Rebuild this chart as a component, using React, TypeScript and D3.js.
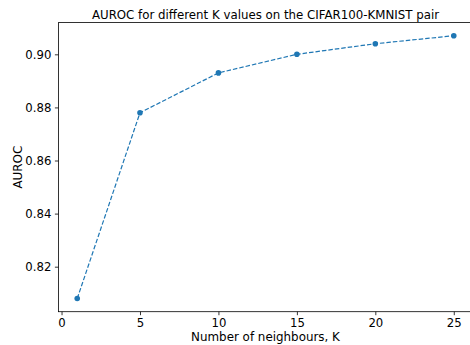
import { useEffect, useRef } from "react";
import * as d3 from "d3";

const kValues = [1, 5, 10, 15, 20, 25];
const auroc = [0.808, 0.878, 0.893, 0.9, 0.904, 0.907];
const xTicks = [0, 5, 10, 15, 20, 25];
const yTicks = [0.82, 0.84, 0.86, 0.88, 0.9];

const W = 470;
const H = 345;
const FONT = "DejaVu Sans, sans-serif";

export default function App() {
  const svgRef = useRef<SVGSVGElement>(null);

  useEffect(() => {
    if (!svgRef.current) return;
    const svg = d3.select(svgRef.current);
    svg.selectAll("*").remove();

    const left = 58.4;
    const right = 472.6;
    const top = 22.6;
    const bottom = 311.7;

    // matplotlib-style 5% margins
    const xPad = (d3.max(kValues)! - d3.min(kValues)!) * 0.05;
    const yPad = (d3.max(auroc)! - d3.min(auroc)!) * 0.05;
    const x = d3
      .scaleLinear()
      .domain([d3.min(kValues)! - xPad, d3.max(kValues)! + xPad])
      .range([left, right]);
    const y = d3
      .scaleLinear()
      .domain([d3.min(auroc)! - yPad, d3.max(auroc)! + yPad])
      .range([bottom, top]);

    const data = kValues.map((k, i) => ({ k, v: auroc[i] }));

    // line
    svg
      .append("path")
      .datum(data)
      .attr("fill", "none")
      .attr("stroke", "#1f77b4")
      .attr("stroke-width", 1.2)
      .attr("stroke-dasharray", "4.5,2")
      .attr(
        "d",
        d3
          .line<{ k: number; v: number }>()
          .x((d) => x(d.k))
          .y((d) => y(d.v))
      );

    svg
      .selectAll("circle")
      .data(data)
      .join("circle")
      .attr("cx", (d) => x(d.k))
      .attr("cy", (d) => y(d.v))
      .attr("r", 2.8)
      .attr("fill", "#1f77b4");

    // axes
    const xAxis = svg
      .append("g")
      .attr("transform", `translate(0,${bottom})`)
      .call(
        d3
          .axisBottom(x)
          .tickValues(xTicks)
          .tickSize(3.5)
          .tickPadding(3.5)
          .tickFormat(d3.format("d"))
      );
    const yAxis = svg
      .append("g")
      .attr("transform", `translate(${left},0)`)
      .call(
        d3
          .axisLeft(y)
          .tickValues(yTicks)
          .tickSize(3.5)
          .tickPadding(3.5)
          .tickFormat(d3.format(".2f"))
      );
    [xAxis, yAxis].forEach((g) => {
      g.select(".domain").remove();
      g.selectAll("line").attr("stroke", "#000").attr("stroke-width", 0.8);
      g.selectAll("text")
        .attr("fill", "#000")
        .style("font-family", FONT)
        .style("font-size", "11.7px");
    });

    // frame
    svg
      .append("rect")
      .attr("x", left)
      .attr("y", top)
      .attr("width", right - left)
      .attr("height", bottom - top)
      .attr("fill", "none")
      .attr("stroke", "#000")
      .attr("stroke-width", 0.8);

    // title and labels
    svg
      .append("text")
      .attr("x", (left + right) / 2)
      .attr("y", 19)
      .attr("text-anchor", "middle")
      .style("font-family", FONT)
      .style("font-size", "11.8px")
      .text("AUROC for different K values on the CIFAR100-KMNIST pair");

    svg
      .append("text")
      .attr("x", (left + right) / 2)
      .attr("y", 340.5)
      .attr("text-anchor", "middle")
      .style("font-family", FONT)
      .style("font-size", "11.9px")
      .text("Number of neighbours, K");

    svg
      .append("text")
      .attr("transform", `translate(21.5,${(top + bottom) / 2}) rotate(-90)`)
      .attr("text-anchor", "middle")
      .style("font-family", FONT)
      .style("font-size", "11.9px")
      .text("AUROC");
  }, []);

  return (
    <svg
      ref={svgRef}
      width={W}
      height={H}
      style={{ position: "fixed", left: 0, top: 0, background: "#fff" }}
    ></svg>
  );
}
